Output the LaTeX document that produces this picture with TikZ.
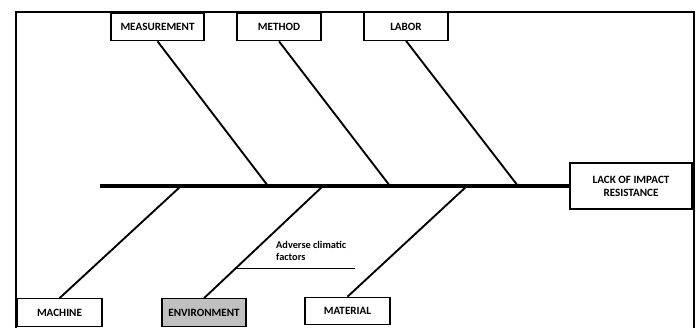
\documentclass[tikz,border=0pt]{standalone}
\usepackage{fontspec}
\setmainfont{Carlito}
\usetikzlibrary{calc}
\definecolor{envgray}{RGB}{192,192,192}

\begin{document}
\begin{tikzpicture}[
                x=0.03cm, y=-0.03cm,
                font=\bfseries\fontsize{9.5}{11}\selectfont,
                cause/.style={draw, line width=1.1pt, fill=white, minimum height=0.82cm, inner sep=1pt, align=center},
                effect/.style={draw, line width=1.1pt, fill=white, minimum width=3.66cm, minimum height=1.38cm, align=center},
                spine/.style={line width=3.6pt},
                bone/.style={line width=1.6pt},
                frame/.style={line width=1.6pt},
                sub/.style={line width=0.6pt}
            ]
                \useasboundingbox (0,0) rectangle (697,327);
                \draw[frame] (16,330) -- (16,12) -- (694,12) -- (694,330);
                \node[cause, minimum width=2.79cm] (meas) at (157.5,27) {MEASUREMENT};
                \node[cause, minimum width=2.52cm] (meth) at (279,27) {METHOD};
                \node[cause, minimum width=2.52cm] (labor) at (406,26.5) {LABOR};
                \node[cause, minimum width=2.55cm] (mach) at (59.5,312.5) {MACHINE};
                \node[cause, minimum width=2.52cm, fill=envgray] (env) at (204,312.5) {ENVIRONMENT};
                \node[cause, minimum width=2.55cm] (mat) at (347.5,311) {MATERIAL};
                \node[effect] (lack) at (631,186) {LACK OF IMPACT\\RESISTANCE};
                \coordinate (tail) at (100,186);
                \coordinate (m1) at (268,186);
                \coordinate (m2) at (390,186);
                \coordinate (m3) at (518,186);
                \coordinate (b1) at (181,186);
                \coordinate (b2) at (323,186);
                \coordinate (b3) at (467,186);
                \draw[spine] (tail) -- (lack.west);
                \draw[bone] (meas.south) -- (m1);
                \draw[bone] (meth.south) -- (m2);
                \draw[bone] (labor.south) -- (m3);
                \draw[bone] (mach.north) -- (b1);
                \draw[bone] (env.north) -- (b2);
                \draw[bone] (mat.north) -- (b3);
                \coordinate (adv) at ($(env.north)!0.265!(b2)$);
                \coordinate (advend) at (355,269);
                \draw[sub] (adv) -- (adv -| advend);
                \node[anchor=north west, align=left, inner sep=0pt, font=\bfseries\fontsize{8.8}{10.5}\selectfont] (advtext) at (276,241) {Adverse climatic\\factors};
            \end{tikzpicture}
\end{document}
